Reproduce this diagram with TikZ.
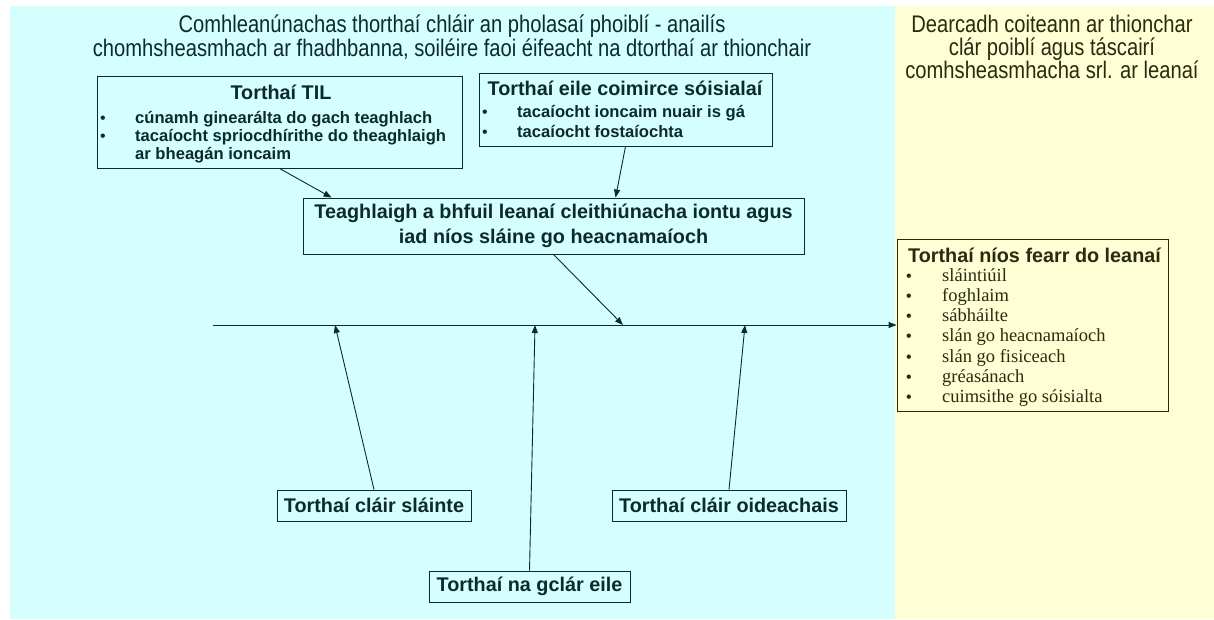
\documentclass[tikz,border=0pt]{standalone}
\usepackage{fontspec}
\usetikzlibrary{arrows.meta}
\newfontfamily\arialf{Liberation Sans}
\newfontfamily\narrowf{Liberation Sans}[FakeStretch=0.84]
\newfontfamily\timesf{Liberation Serif}
\definecolor{cyanbg}{HTML}{D5FFFF}
\definecolor{yellowbg}{HTML}{FFFFD5}
\definecolor{ink}{HTML}{0D2A2A}
\definecolor{inkY}{HTML}{2A2A10}
\tikzset{
  box/.style={draw=ink, line width=0.9pt, inner sep=0pt, text=ink, align=center},
  ybox/.style={draw=inkY, line width=0.9pt, inner sep=0pt},
  conn/.style={draw=ink, line width=0.9pt, -{Triangle[length=8pt,width=6pt]}},
  bigb/.style={font=\arialf\bfseries\fontsize{19.8}{25}\selectfont},
  itemb/.style={font=\arialf\bfseries\fontsize{16.6}{18}\selectfont, text=ink, inner sep=0pt, anchor=base west},
  bul/.style={font=\arialf\fontsize{16}{18}\selectfont, text=ink, inner sep=0pt, anchor=base},
  titlet/.style={font=\narrowf\fontsize{24}{22.5}\selectfont, align=center, inner sep=0pt},
  itemr/.style={font=\timesf\fontsize{18.5}{20}\selectfont, text=inkY, inner sep=0pt, anchor=base west},
}
\begin{document}
\begin{tikzpicture}[x=1pt,y=-1pt]
\useasboundingbox (0,0) rectangle (1214,619);
\fill[white] (0,0) rectangle (1214,619);
\fill[cyanbg] (10,6) rectangle (895,619);
\fill[yellowbg] (895,6) rectangle (1214,619);

% titles
\node[titlet, text=ink] (ctitle) at (452,37) {Comhleanúnachas thorthaí chláir an pholasaí phoiblí - anailís\\chomhsheasmhach ar fhadhbanna, soiléire faoi éifeacht na dtorthaí ar thionchair};
\node[titlet, text=inkY] (ytitle) at (1052,47) {Dearcadh coiteann ar thionchar\\clár poiblí agus táscairí\\comhsheasmhacha srl. ar leanaí};

% TIL box
\node[box, minimum width=365, minimum height=92] (til) at (279.5,122) {};
\node[bigb, text=ink, inner sep=0pt] (tilt) at (281,92) {Torthaí TIL};
\node[bul] (tb1) at (103,123) {•};
\node[itemb] (ti1) at (135,123) {cúnamh ginearálta do gach teaghlach};
\node[bul] (tb2) at (103,141) {•};
\node[itemb] (ti2) at (135,141) {tacaíocht spriocdhírithe do theaghlaigh};
\node[itemb] (ti3) at (135,159) {ar bheagán ioncaim};

% social protection box
\node[box, minimum width=293, minimum height=73] (sp) at (625.5,109.5) {};
\node[bigb, text=ink, inner sep=0pt] (spt) at (625,88) {Torthaí eile coimirce sóisialaí};
\node[bul] (sb1) at (485,117) {•};
\node[itemb] (si1) at (517,117) {tacaíocht ioncaim nuair is gá};
\node[bul] (sb2) at (485,137) {•};
\node[itemb] (si2) at (517,137) {tacaíocht fostaíochta};

% central box
\node[box, bigb, minimum width=501, minimum height=56] (cen) at (553.5,226)
  {Teaghlaigh a bhfuil leanaí cleithiúnacha iontu agus\\iad níos sláine go heacnamaíoch};

% bottom boxes
\node[box, bigb, minimum width=194, minimum height=31] (sl) at (374,505.5) {Torthaí cláir sláinte};
\node[box, bigb, minimum width=234, minimum height=31] (oi) at (729,505.5) {Torthaí cláir oideachais};
\node[box, bigb, minimum width=201, minimum height=31] (ng) at (529.5,586.5) {Torthaí na gclár eile};

% right box
\node[ybox, minimum width=271, minimum height=172] (rb) at (1032.5,325) {};
\node[bigb, text=inkY, inner sep=0pt] (rbt) at (1034.5,255) {Torthaí níos fearr do leanaí};
\foreach \t [count=\i] in {sláintiúil,foghlaim,sábháilte,slán go heacnamaíoch,slán go fisiceach,gréasánach,cuimsithe go sóisialta}{
  \node[bul, text=inkY] (rb\i) at (909,{261+20.2*\i}) {•};
  \node[itemr] (ri\i) at (942,{261+20.2*\i}) {\t};
}

% spine
\coordinate (s0) at (213,325);
\coordinate (p1) at (335,325);
\coordinate (p2) at (535,325);
\coordinate (p3) at (623,325);
\coordinate (p4) at (745,325);
\draw[conn] (s0) -- (rb.west);

% connectors
\draw[conn] (til.south) -- ([xshift=29pt]cen.north west);
\draw[conn] (sp.south) -- ([xshift=313pt]cen.north west);
\draw[conn] (cen.south) -- (p3);
\draw[conn] (sl.north) -- (p1);
\draw[conn] (ng.north) -- (p2);
\draw[conn] (oi.north) -- (p4);
\end{tikzpicture}
\end{document}
